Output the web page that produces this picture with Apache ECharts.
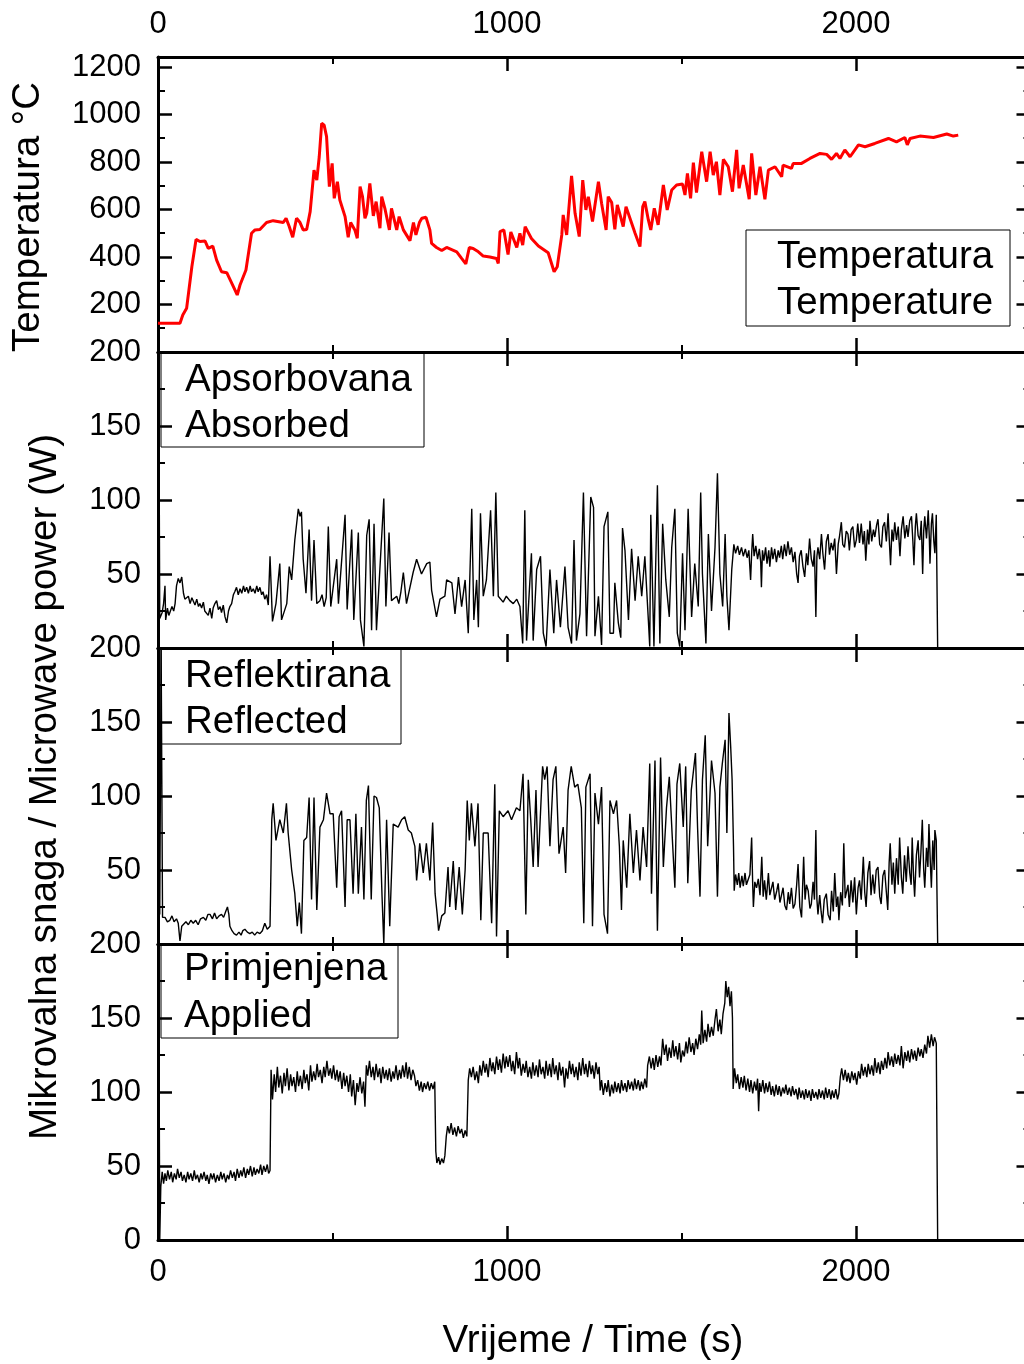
<!DOCTYPE html>
<html>
<head>
<meta charset="utf-8">
<title>Temperatura i mikrovalna snaga</title>
<script src="https://cdn.jsdelivr.net/npm/echarts@6/dist/echarts.min.js"></script>
<style>
  html, body { margin: 0; padding: 0; background: #ffffff; }
  #main { width: 1024px; height: 1364px; }
</style>
</head>
<body>
<div id="main"></div>
<script>
// temperatura (°C)
var tempTime = [0, 63, 71, 82, 97, 109, 120, 135, 144, 157, 168, 182, 197, 216, 227, 235, 252, 268, 278, 292, 311, 330, 359, 367, 376, 386, 397, 407, 416, 426, 436, 447, 455, 462, 469, 476, 483, 491, 499, 505, 514, 521, 536, 545, 552, 564, 571, 579, 586, 593, 598, 607, 617, 625, 636, 641, 650, 663, 669, 684, 691, 703, 722, 732, 739, 749, 756, 768, 779, 784, 798, 813, 827, 856, 870, 882, 892, 903, 918, 932, 951, 970, 975, 980, 991, 1003, 1011, 1028, 1037, 1045, 1052, 1070, 1090, 1118, 1135, 1144, 1157, 1161, 1171, 1185, 1195, 1207, 1217, 1226, 1233, 1245, 1262, 1271, 1284, 1290, 1300, 1309, 1316, 1326, 1333, 1341, 1354, 1367, 1381, 1389, 1395, 1405, 1412, 1422, 1433, 1448, 1459, 1472, 1486, 1503, 1510, 1517, 1526, 1534, 1543, 1558, 1572, 1582, 1591, 1600, 1610, 1620, 1634, 1646, 1658, 1665, 1677, 1694, 1701, 1713, 1725, 1739, 1749, 1768, 1787, 1791, 1815, 1820, 1844, 1868, 1897, 1916, 1930, 1944, 1954, 1968, 1983, 2007, 2026, 2054, 2093, 2116, 2140, 2147, 2155, 2183, 2222, 2260, 2279, 2293];
var tempValue = [121, 121, 156, 184, 359, 474, 465, 467, 436, 446, 387, 338, 334, 275, 240, 282, 345, 500, 514, 516, 545, 553, 545, 563, 528, 483, 563, 545, 514, 516, 591, 766, 724, 822, 963, 955, 907, 696, 794, 647, 717, 640, 570, 483, 545, 514, 479, 696, 654, 563, 584, 710, 573, 633, 521, 654, 605, 514, 605, 514, 570, 514, 469, 545, 493, 545, 563, 567, 514, 457, 440, 427, 440, 422, 394, 371, 440, 436, 422, 404, 400, 394, 373, 507, 514, 410, 505, 440, 500, 450, 528, 478, 446, 418, 338, 359, 493, 577, 493, 741, 584, 486, 724, 598, 654, 549, 717, 626, 514, 654, 629, 516, 619, 567, 528, 612, 556, 500, 444, 612, 633, 556, 514, 605, 535, 703, 598, 682, 703, 707, 661, 752, 647, 797, 671, 843, 717, 843, 745, 801, 661, 811, 780, 675, 851, 689, 787, 643, 836, 661, 780, 643, 766, 780, 738, 787, 773, 794, 794, 815, 836, 832, 811, 836, 815, 851, 822, 872, 864, 878, 899, 885, 903, 872, 899, 909, 903, 918, 909, 913];

// apsorbovana snaga (W), [vrijeme s, snaga W]
var absPoints = [
    [0, 25], [2, 200], [5, 20], [12, 24], [16, 30], [20, 42], [22, 19], [27, 27], [31, 22], [34, 23], [40, 28], [45, 25], [49, 30], [53, 42], [58, 47], [63, 44], [68, 48], [73, 37], [77, 33], [82, 32], [87, 35], [92, 30], [97, 34], [101, 33], [106, 29], [111, 33], [116, 28], [120, 30], [125, 27], [130, 31], [134, 25], [139, 26], [144, 22], [149, 27], [154, 20], [158, 27], [163, 30], [168, 32], [173, 26], [178, 28], [182, 24], [187, 29], [192, 21], [197, 17], [202, 25], [206, 28], [211, 30], [216, 36], [220, 38], [225, 41], [230, 36], [235, 40], [240, 37], [245, 42], [249, 38], [254, 41], [259, 37], [264, 42], [268, 38], [273, 40], [278, 37], [283, 42], [287, 38], [292, 41], [297, 36], [301, 38], [306, 33], [311, 36], [316, 29],
    [321, 62], [328, 18], [338, 30], [349, 57], [354, 19], [369, 30], [376, 55], [383, 46], [392, 73], [402, 94], [407, 89], [411, 92], [416, 60], [424, 37], [433, 80], [440, 32], [447, 73], [455, 30], [464, 32], [470, 36], [476, 28], [482, 34], [488, 82], [495, 28], [512, 60], [517, 30], [536, 90], [542, 26], [555, 80], [561, 19], [574, 78], [580, 19], [590, 1], [598, 76], [605, 87], [612, 12], [619, 84], [626, 12], [647, 101], [653, 28], [662, 78], [669, 32], [684, 35], [690, 30], [696, 38], [703, 51], [712, 30], [731, 51], [741, 60], [755, 50], [770, 57], [779, 58], [784, 39], [798, 21], [808, 33], [822, 35], [827, 46], [842, 44], [851, 23], [861, 48], [870, 28], [880, 46], [889, 10], [899, 94], [905, 19], [913, 46], [918, 14], [924, 91], [932, 35], [941, 46], [953, 93], [961, 35], [968, 105], [975, 35], [989, 31], [998, 35], [1008, 32], [1018, 30], [1028, 33], [1037, 28], [1045, 3], [1051, 93], [1056, 5], [1070, 64], [1075, 5], [1085, 53], [1096, 62], [1104, 10], [1112, 1], [1123, 53], [1134, 10], [1142, 46], [1153, 14], [1166, 55], [1175, 14], [1185, 3], [1192, 73], [1199, 5], [1209, 23], [1219, 105], [1228, 8], [1240, 102], [1248, 95], [1252, 8], [1262, 35], [1271, 2], [1278, 82], [1289, 92], [1295, 10], [1305, 10], [1309, 44], [1319, 17], [1326, 7], [1331, 81], [1338, 66], [1348, 19], [1357, 67], [1367, 32], [1376, 62], [1386, 35], [1395, 62], [1405, 19], [1409, 1], [1412, 90], [1421, 1], [1431, 110], [1438, 3], [1446, 84], [1455, 46], [1465, 21], [1472, 68], [1481, 94], [1488, 10], [1495, 1], [1503, 64], [1510, 12], [1519, 94], [1529, 21], [1538, 57], [1548, 28], [1555, 105], [1560, 50], [1570, 3], [1577, 77], [1586, 25], [1596, 68], [1603, 118], [1610, 50], [1618, 28], [1625, 77], [1630, 35], [1636, 12], [1644, 53],
    [1650, 70], [1655, 64], [1661, 69], [1666, 63], [1672, 68], [1677, 62], [1683, 67], [1688, 61], [1693, 66], [1698, 46], [1701, 64], [1704, 77], [1708, 62], [1713, 69], [1718, 60], [1723, 67], [1727, 58], [1729, 41], [1732, 66], [1736, 59], [1741, 68], [1745, 57], [1750, 66], [1753, 55], [1758, 68], [1762, 60], [1767, 67], [1772, 58], [1777, 66], [1781, 61], [1786, 69], [1790, 60], [1795, 70], [1800, 62], [1805, 72], [1810, 63], [1815, 68], [1820, 58], [1825, 65], [1830, 50], [1834, 44], [1838, 62], [1843, 66], [1848, 55], [1853, 48], [1858, 64], [1862, 56], [1867, 74], [1872, 60], [1877, 55], [1881, 66], [1885, 21], [1888, 62], [1891, 68], [1896, 60], [1901, 77], [1905, 64], [1910, 53], [1915, 72], [1920, 77], [1924, 63], [1929, 71], [1934, 66], [1939, 74], [1944, 50], [1949, 70], [1953, 76], [1958, 85], [1962, 70], [1967, 68], [1972, 79], [1977, 77], [1981, 66], [1986, 80], [1991, 82], [1996, 68], [2001, 73], [2005, 84], [2010, 71], [2015, 84], [2020, 70], [2024, 79], [2028, 59], [2033, 80], [2037, 70], [2040, 86], [2045, 72], [2050, 80], [2054, 75], [2059, 83], [2063, 87], [2068, 70], [2073, 68], [2077, 82], [2082, 85], [2087, 72], [2092, 91], [2096, 70], [2099, 56], [2103, 80], [2107, 72], [2111, 85], [2116, 73], [2121, 82], [2126, 62], [2130, 80], [2135, 89], [2140, 74], [2145, 83], [2149, 75], [2154, 86], [2159, 89], [2163, 72], [2166, 56], [2170, 82], [2173, 91], [2178, 76], [2183, 73], [2187, 86], [2191, 50], [2194, 79], [2197, 89], [2202, 74], [2207, 93], [2210, 75], [2212, 57], [2216, 84], [2219, 91], [2223, 72], [2226, 64], [2230, 90], [2234, 0]
];

// reflektirana snaga (W), [vrijeme s, snaga W]
var refPoints = [
    [0, 20], [2, 200], [5, 20], [9, 200], [13, 18], [20, 18], [27, 15], [34, 16], [40, 19], [46, 15], [53, 17], [58, 14], [63, 2], [68, 12], [73, 13], [80, 15], [87, 13], [94, 16], [101, 14], [108, 16], [115, 13], [122, 17], [130, 18], [137, 16], [143, 20], [149, 20], [156, 17], [162, 21], [168, 17], [175, 19], [182, 20], [188, 18], [194, 22], [199, 25], [203, 20], [206, 12], [212, 9], [218, 7], [225, 6], [232, 8], [238, 6], [243, 9], [249, 10], [256, 8], [263, 7], [270, 8], [277, 6], [284, 8], [292, 7], [299, 9], [306, 14], [313, 10], [321, 12],
    [326, 84], [330, 95], [338, 70], [349, 84], [359, 75], [368, 95], [373, 75], [383, 50], [392, 34], [399, 12], [405, 28], [411, 7], [418, 70], [426, 72], [433, 99], [440, 30], [447, 99], [455, 23], [464, 79], [474, 84], [483, 102], [493, 88], [502, 88], [512, 38], [519, 86], [526, 90], [536, 25], [542, 84], [550, 84], [559, 34], [567, 88], [574, 34], [583, 79], [590, 30], [597, 97], [603, 107], [611, 30], [619, 100], [626, 99], [634, 92], [642, 32], [647, 0], [655, 84], [664, 12], [674, 81], [688, 79], [698, 84], [707, 86], [717, 77], [726, 75], [736, 66], [741, 43], [750, 68], [760, 48], [769, 68], [779, 43], [787, 82], [794, 34], [800, 20], [804, 9], [813, 19], [822, 21], [831, 52], [836, 25], [846, 56], [853, 23], [863, 52], [872, 20], [880, 50], [886, 97], [892, 70], [898, 95], [908, 66], [917, 95], [925, 16], [932, 75], [946, 75], [956, 14], [965, 108], [970, 5], [978, 90], [989, 86], [1003, 90], [1013, 84], [1027, 92], [1037, 90], [1046, 115], [1054, 20], [1061, 111], [1068, 84], [1075, 52], [1083, 104], [1089, 52], [1102, 120], [1108, 111], [1115, 120], [1123, 66], [1132, 111], [1140, 120], [1149, 61], [1161, 79], [1168, 48], [1175, 104], [1184, 120], [1194, 106], [1203, 108], [1213, 92], [1220, 14], [1226, 106], [1238, 115], [1245, 12], [1252, 102], [1262, 81], [1271, 106], [1278, 20], [1288, 7], [1295, 97], [1305, 88], [1314, 97], [1322, 66], [1328, 23], [1333, 70], [1343, 38], [1352, 88], [1362, 48], [1371, 77], [1381, 43], [1390, 79], [1400, 52], [1409, 122], [1414, 34], [1424, 124], [1431, 9], [1440, 126], [1448, 52], [1457, 92], [1465, 113], [1474, 70], [1481, 38], [1487, 108], [1495, 122], [1505, 79], [1512, 120], [1518, 41], [1528, 104], [1540, 129], [1546, 79], [1553, 32], [1560, 111], [1568, 141], [1575, 66], [1586, 124], [1596, 102], [1603, 32], [1610, 106], [1617, 122], [1625, 138], [1630, 75], [1636, 156], [1641, 133], [1645, 111], [1649, 66],
    [1651, 36], [1655, 47], [1660, 40], [1664, 48], [1668, 38], [1673, 46], [1677, 39], [1682, 48], [1686, 40], [1691, 41], [1696, 47], [1701, 72], [1704, 40], [1706, 25], [1710, 42], [1715, 38], [1720, 44], [1725, 33], [1730, 59], [1734, 32], [1738, 43], [1743, 30], [1749, 48], [1753, 33], [1758, 34], [1762, 42], [1767, 30], [1773, 36], [1777, 41], [1782, 28], [1787, 27], [1791, 38], [1796, 26], [1801, 23], [1806, 35], [1810, 27], [1815, 38], [1820, 24], [1825, 27], [1830, 40], [1834, 54], [1839, 25], [1844, 18], [1850, 59], [1854, 30], [1858, 40], [1863, 36], [1868, 24], [1872, 27], [1877, 42], [1881, 30], [1885, 77], [1888, 30], [1891, 20], [1896, 33], [1900, 22], [1904, 14], [1909, 30], [1915, 34], [1920, 20], [1926, 16], [1930, 36], [1935, 22], [1939, 48], [1944, 25], [1948, 32], [1951, 16], [1956, 35], [1961, 26], [1965, 68], [1969, 31], [1972, 30], [1977, 40], [1981, 25], [1986, 43], [1991, 28], [1996, 45], [2001, 20], [2006, 38], [2010, 43], [2015, 30], [2021, 59], [2025, 35], [2029, 25], [2034, 48], [2039, 56], [2043, 33], [2048, 47], [2053, 34], [2058, 50], [2063, 52], [2068, 32], [2072, 27], [2077, 46], [2082, 50], [2087, 35], [2091, 23], [2095, 55], [2098, 68], [2103, 40], [2107, 55], [2111, 34], [2116, 58], [2121, 40], [2125, 72], [2130, 45], [2134, 34], [2139, 60], [2144, 42], [2149, 66], [2154, 48], [2158, 40], [2161, 72], [2165, 45], [2168, 32], [2173, 60], [2178, 70], [2182, 45], [2186, 62], [2190, 84], [2194, 50], [2197, 38], [2202, 65], [2206, 52], [2209, 81], [2213, 55], [2216, 38], [2220, 70], [2224, 50], [2226, 77], [2230, 70], [2234, 0]
];

// primijenjena snaga (W)
var appTime = [0, 2, 5, 8, 12, 16, 20, 24, 28, 33, 38, 42, 47, 52, 56, 61, 66, 70, 75, 80, 85, 89, 94, 99, 104, 108, 113, 118, 123, 127, 132, 137, 141, 146, 151, 156, 160, 165, 170, 175, 180, 184, 189, 194, 199, 203, 208, 213, 218, 222, 227, 232, 237, 241, 246, 251, 256, 260, 265, 270, 275, 279, 284, 289, 294, 298, 303, 308, 313, 317, 321,
    324, 328, 333, 337, 342, 346, 351, 356, 361, 365, 370, 375, 380, 384, 389, 394, 399, 403, 408, 413, 418, 422, 427, 432, 437, 441, 446, 451, 456, 460, 465, 470, 475, 479, 484, 489, 494, 498, 503, 508, 513, 517, 522, 527, 532, 536, 541, 546, 551, 555, 560, 565, 570, 574, 579, 584, 589, 593, 597, 601, 606, 611, 616, 620, 625, 630, 635, 639, 644, 649, 654, 658, 663, 668, 673, 677, 682, 687, 692, 696, 701, 706, 711, 715, 720, 725, 730, 735, 739, 744, 749, 754, 758, 763, 768, 773, 778, 783, 788, 793,
    796, 799, 804, 808, 813, 818, 822, 826, 830, 835, 840, 845, 850, 855, 860, 865, 870, 875, 880, 885,
    889, 893, 898, 903, 908, 913, 918, 922, 927, 932, 937, 941, 946, 951, 956, 960, 965, 970, 975, 979, 984, 989, 994, 998, 1003, 1008, 1013, 1017, 1022, 1027, 1032, 1036, 1041, 1046, 1051, 1055, 1060, 1065, 1070, 1074, 1079, 1084, 1089, 1093, 1098, 1103, 1108, 1112, 1117, 1122, 1127, 1131, 1136, 1141, 1146, 1150, 1155, 1160, 1165, 1169, 1174, 1179, 1184, 1188, 1193, 1198, 1203, 1207, 1212, 1217, 1222, 1226, 1231, 1236, 1241, 1245, 1250, 1255, 1260, 1264,
    1267, 1271, 1276, 1281, 1286, 1290, 1295, 1300, 1305, 1309, 1314, 1319, 1324, 1328, 1333, 1338, 1343, 1347, 1352, 1357, 1362, 1366, 1371, 1376, 1381, 1385, 1390, 1395, 1400,
    1403, 1408, 1413, 1418, 1422, 1427, 1432, 1437, 1441, 1446, 1451, 1456, 1460, 1465, 1470, 1475, 1479, 1484, 1489, 1494, 1498, 1503, 1508, 1513, 1517, 1522, 1527, 1532, 1536, 1541, 1546, 1551, 1555, 1558, 1562, 1567, 1572, 1576, 1581, 1586, 1591, 1596, 1600, 1605, 1610, 1614, 1619, 1624, 1627, 1631, 1635, 1639, 1643, 1646,
    1648, 1652, 1657, 1661, 1666, 1671, 1676, 1680, 1685, 1690, 1695, 1699, 1704, 1709, 1714, 1718, 1721, 1724, 1728, 1733, 1738, 1742, 1747, 1752, 1757, 1761, 1766, 1771, 1776, 1780, 1785, 1790, 1795, 1799, 1804, 1809, 1814, 1818, 1823, 1828, 1833, 1837, 1842, 1847, 1852, 1856, 1861, 1866, 1871, 1875, 1880, 1885, 1890, 1894, 1899, 1904, 1909, 1913, 1918, 1923, 1928, 1932, 1937, 1942, 1947, 1951,
    1955, 1959, 1964, 1969, 1974, 1978, 1983, 1988, 1993, 1997, 2002, 2007, 2012, 2016, 2021, 2026, 2031, 2035, 2040, 2045, 2050, 2054, 2059, 2064, 2069, 2073, 2078, 2083, 2088, 2092, 2097, 2102, 2107, 2111, 2116, 2121, 2126, 2130, 2135, 2140, 2145, 2149, 2154, 2159, 2164, 2168, 2173, 2178, 2183, 2187, 2192, 2197, 2202, 2206, 2211, 2216, 2221, 2225, 2230, 2234];
var appValue = [40, 200, 0, 36, 46, 38, 45, 40, 47, 41, 46, 39, 45, 41, 48, 42, 46, 40, 44, 39, 46, 41, 45, 40, 47, 41, 44, 39, 45, 41, 46, 40, 44, 38, 45, 41, 45, 39, 44, 40, 46, 41, 45, 39, 44, 41, 47, 42, 46, 40, 48, 42, 47, 43, 49, 42, 48, 44, 50, 43, 49, 44, 48, 45, 51, 44, 50, 46, 51, 45, 47,
    115, 95, 112, 100, 117, 103, 111, 99, 113, 104, 116, 101, 112, 104, 110, 100, 114, 104, 111, 102, 115, 106, 112, 101, 118, 107, 114, 108, 119, 110, 115, 106, 117, 110, 121, 111, 116, 109, 118, 108, 115, 107, 114, 102, 113, 104, 111, 100, 112, 97, 108, 91, 106, 100, 110, 99, 107, 90, 118, 111, 121, 110, 117, 108, 119, 110, 116, 106, 117, 109, 115, 108, 116, 107, 114, 109, 118, 108, 115, 109, 118, 110, 120, 109, 117, 108, 115, 111, 104, 108, 101, 107, 100, 106, 102, 107, 101, 106, 102, 107,
    60, 52, 56, 51, 55, 52, 57, 70, 77, 72, 79, 71, 76, 70, 77, 72, 75, 69, 74, 70,
    108, 116, 110, 117, 108, 114, 106, 118, 111, 121, 113, 119, 110, 123, 114, 120, 112, 124, 115, 122, 113, 126, 116, 124, 117, 125, 114, 121, 112, 127, 116, 123, 111, 119, 113, 121, 110, 117, 109, 120, 111, 118, 110, 122, 112, 117, 109, 121, 111, 119, 110, 123, 112, 118, 108, 120, 111, 117, 103, 116, 109, 121, 112, 119, 110, 117, 108, 120, 111, 123, 112, 119, 110, 121, 112, 118, 109, 120, 112, 117,
    101, 108, 98, 106, 100, 108, 97, 105, 99, 107, 100, 106, 99, 108, 101, 106, 100, 108, 102, 107, 101, 109, 102, 108, 101, 107, 102, 109, 103,
    118, 124, 116, 123, 115, 125, 117, 124, 118, 136, 125, 132, 121, 130, 123, 135, 124, 131, 122, 133, 120, 128, 124, 134, 126, 137, 127, 133, 125, 136, 129, 139, 132, 155, 133, 142, 134, 146, 137, 144, 138, 149, 156, 141, 149, 139, 153, 160, 175, 164, 171, 158, 168, 150,
    102, 116, 106, 112, 102, 110, 103, 111, 101, 109, 100, 108, 99, 107, 101, 109, 87, 106, 100, 108, 99, 106, 100, 107, 98, 104, 97, 105, 98, 104, 97, 103, 99, 105, 98, 103, 97, 104, 98, 102, 95, 103, 96, 101, 95, 102, 96, 101, 94, 102, 96, 100, 95, 102, 96, 101, 95, 103, 96, 102, 95, 101, 96, 102, 95, 99,
    110, 116, 108, 115, 107, 113, 106, 114, 108, 113, 105, 114, 109, 119, 111, 117, 110, 119, 112, 118, 111, 123, 113, 120, 112, 121, 115, 123, 116, 127, 118, 124, 117, 126, 119, 125, 118, 131, 116, 127, 121, 128, 120, 129, 122, 128, 121, 130, 124, 129, 123, 132, 126, 138, 130, 139, 131, 137, 133, 0];

function pairs(t, v) {
    return t.map(function (x, i) { return [x, v[i]]; });
}

var FONT = "'Liberation Sans', Arial, sans-serif";
var BLACK = "#000000";

// panel frames: x scale 0..3000 so 2500 sits just past the right edge of the page
var panels = [
    { top: 57, height: 295, max: 1242, interval: 200 },
    { top: 352, height: 296, max: 200, interval: 50 },
    { top: 648, height: 296, max: 200, interval: 50 },
    { top: 944, height: 296, max: 200, interval: 50 }
];

var grids = [], xAxes = [], yAxes = [];

panels.forEach(function (p, i) {
    grids.push({ left: 158, top: p.top, width: 1047, height: p.height, outerBoundsMode: "none", containLabel: false });

    ["bottom", "top"].forEach(function (pos) {
        var showLabel = (i === 0 && pos === "top") || (i === 3 && pos === "bottom");
        xAxes.push({
            type: "value",
            gridIndex: i,
            position: pos,
            min: 0,
            max: 3000,
            interval: 1000,
            axisLine: { show: true, onZero: false, lineStyle: { color: BLACK, width: 3 } },
            axisTick: { show: true, inside: true, length: 14, lineStyle: { color: BLACK, width: 2.5 } },
            minorTick: { show: true, splitNumber: 2, length: 7, lineStyle: { color: BLACK, width: 2 } },
            axisLabel: {
                show: showLabel,
                color: BLACK,
                fontSize: 31,
                fontFamily: FONT,
                margin: 17,
                formatter: function (v) { return v <= 2000 ? String(v) : ""; }
            },
            splitLine: { show: false }
        });
    });

    ["left", "right"].forEach(function (pos) {
        yAxes.push({
            type: "value",
            gridIndex: i,
            position: pos,
            offset: pos === "right" ? -174.5 : 0,
            min: 0,
            max: p.max,
            interval: p.interval,
            axisLine: { show: true, onZero: false, lineStyle: { color: BLACK, width: 3 } },
            axisTick: { show: true, inside: true, length: 14, lineStyle: { color: BLACK, width: 2.5 } },
            minorTick: { show: true, splitNumber: 2, length: 7, lineStyle: { color: BLACK, width: 2 } },
            axisLabel: {
                show: pos === "left",
                color: BLACK,
                fontSize: 31,
                fontFamily: FONT,
                margin: 17,
                formatter: function (v) {
                    if (i === 0) return (v > 0 && v <= 1200 && v % 200 === 0) ? String(v) : "";
                    if (i === 3) return String(v);
                    return v > 0 ? String(v) : "";
                }
            },
            splitLine: { show: false }
        });
    });
});

function lineSeries(name, idx, data, color, width) {
    return {
        name: name,
        type: "line",
        xAxisIndex: idx * 2,
        yAxisIndex: idx * 2,
        data: data,
        showSymbol: false,
        symbol: "none",
        lineStyle: { color: color, width: width },
        itemStyle: { color: color }
    };
}

function legendBox(x, y, w, h, lines) {
    var children = [{
        type: "rect",
        shape: { x: x, y: y, width: w, height: h },
        style: { fill: "#ffffff", stroke: BLACK, lineWidth: 1 }
    }];
    lines.forEach(function (l) {
        children.push({
            type: "text",
            x: l.x,
            y: l.y,
            style: { text: l.text, font: "38.5px " + FONT, fill: BLACK, textAlign: "left", textVerticalAlign: "middle" }
        });
    });
    return { type: "group", children: children };
}

var myChart = echarts.init(document.getElementById("main"));

var option = {
    animation: false,
    backgroundColor: "#ffffff",
    grid: grids,
    xAxis: xAxes,
    yAxis: yAxes,
    series: [
        lineSeries("Temperatura", 0, pairs(tempTime, tempValue), "#ff0000", 3),
        lineSeries("Apsorbovana", 1, absPoints, BLACK, 1.4),
        lineSeries("Reflektirana", 2, refPoints, BLACK, 1.4),
        lineSeries("Primjenjena", 3, pairs(appTime, appValue), BLACK, 1.4)
    ],
    graphic: [
        legendBox(746, 230, 264, 96, [
            { text: "Temperatura", x: 777, y: 257 },
            { text: "Temperature", x: 777, y: 303 }
        ]),
        legendBox(161, 353, 263, 94, [
            { text: "Apsorbovana", x: 185, y: 380 },
            { text: "Absorbed", x: 185, y: 426 }
        ]),
        legendBox(161, 649, 240, 95, [
            { text: "Reflektirana", x: 185, y: 676 },
            { text: "Reflected", x: 185, y: 722 }
        ]),
        legendBox(161, 944, 237, 94, [
            { text: "Primjenjena", x: 184, y: 969 },
            { text: "Applied", x: 184, y: 1016 }
        ]),
        {
            type: "text",
            x: 28,
            y: 217,
            rotation: Math.PI / 2,
            style: { text: "Temperatura °C", font: "38.5px " + FONT, fill: BLACK, textAlign: "center", textVerticalAlign: "middle" }
        },
        {
            type: "text",
            x: 45,
            y: 787,
            rotation: Math.PI / 2,
            style: { text: "Mikrovalna snaga / Microwave power (W)", font: "38.5px " + FONT, fill: BLACK, textAlign: "center", textVerticalAlign: "middle" }
        },
        {
            type: "text",
            x: 593,
            y: 1341,
            style: { text: "Vrijeme / Time (s)", font: "38.5px " + FONT, fill: BLACK, textAlign: "center", textVerticalAlign: "middle" }
        }
    ]
};

myChart.setOption(option);
window.addEventListener("resize", function () {
    myChart.resize();
});
</script>
</body>
</html>
